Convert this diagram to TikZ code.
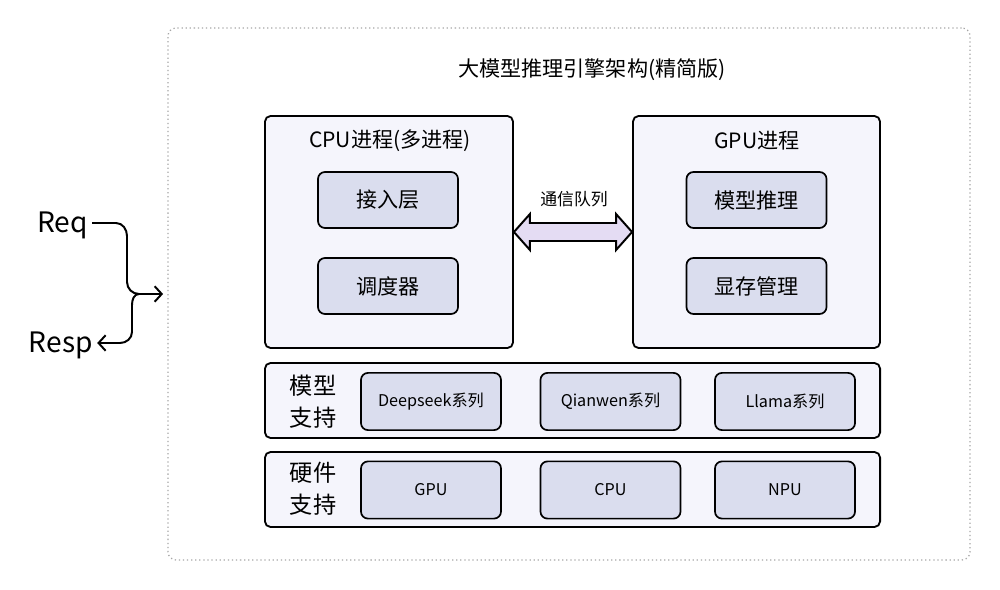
\documentclass[tikz,border=0pt]{standalone}
\usepackage{fontspec}
\setmainfont{Noto Sans CJK SC}
\usetikzlibrary{arrows.meta,calc}
\definecolor{panel}{HTML}{F5F5FC}
\definecolor{inner}{HTML}{DADDEE}
\definecolor{arrowfill}{HTML}{E4DCF3}
\tikzset{
  panelbox/.style={draw=black, line width=1.3pt, fill=panel, rounded corners=4pt, inner sep=0pt},
  innerbox/.style={draw=black, line width=1.2pt, fill=inner, rounded corners=5pt, minimum width=3.5cm, minimum height=1.4cm, inner sep=0pt, font=\fontsize{15}{17}\selectfont},
  smallbox/.style={innerbox, minimum height=1.43cm, font=\fontsize{11.5}{13}\selectfont},
  lbl/.style={inner sep=0pt, align=center},
  conn/.style={line width=1.4pt, -{Straight Barb[length=5pt,width=11pt,line width=1.4pt]}}
}
\begin{document}
\begin{tikzpicture}[x=0.025cm, y=-0.025cm]
\useasboundingbox (0,0) rectangle (1000,590);
\fill[white] (0,0) rectangle (1000,590);
% outer dotted frame
\node[draw=gray!70, dotted, line width=0.9pt, rounded corners=6pt, minimum width=20.05cm, minimum height=13.3cm, inner sep=0pt] (frame) at (569,294) {};
\node[lbl, font=\fontsize{15}{17}\selectfont] (title) at (592,70) {大模型推理引擎架构(精简版)};
% CPU process
\node[panelbox, minimum width=6.2cm, minimum height=5.8cm] (cpu) at (389,232) {};
\node[lbl, font=\fontsize{15}{17}\selectfont] (cputitle) at (390,141) {CPU进程(多进程)};
\node[innerbox] (jr) at (388,200) {接入层};
\node[innerbox] (dd) at (388,286) {调度器};
% GPU process
\node[panelbox, minimum width=6.175cm, minimum height=5.8cm] (gpu) at (756.5,232) {};
\node[lbl, font=\fontsize{15}{17}\selectfont] (gputitle) at (757,141) {GPU进程};
\node[innerbox] (tl) at (756.5,200) {模型推理};
\node[innerbox] (xc) at (756.5,286) {显存管理};
% communication queue arrow
\coordinate (al) at (cpu.east |- 0,232);
\coordinate (ar) at (gpu.west |- 0,232);
\draw[line width=1.4pt, fill=arrowfill, line join=miter]
  (al) -- ++(16,-18) -- ++(0,9) -- ($(ar)+(-16,-9)$) -- ++(0,-9) -- (ar) -- ++(-16,18) -- ++(0,-9) -- ($(al)+(16,9)$) -- ++(0,9) -- cycle;
\node[lbl, font=\fontsize{12}{13}\selectfont] (txq) at (574,199) {通信队列};
% model support row
\node[panelbox, minimum width=15.375cm, minimum height=1.875cm] (model) at (572.5,400.5) {};
\node[lbl, font=\fontsize{16.5}{23}\selectfont] (modellbl) at (313,402) {模型\\支持};
\node[smallbox] (ds) at (431,401.5) {Deepseek系列};
\node[smallbox] (qw) at (610.5,401.5) {Qianwen系列};
\node[smallbox] (ll) at (785,401.5) {Llama系列};
% hardware support row
\node[panelbox, minimum width=15.375cm, minimum height=1.875cm] (hw) at (572.5,489.5) {};
\node[lbl, font=\fontsize{16.5}{23}\selectfont] (hwlbl) at (313,489) {硬件\\支持};
\node[smallbox] (hgpu) at (431,490) {GPU};
\node[smallbox] (hcpu) at (610.5,490) {CPU};
\node[smallbox] (hnpu) at (785,490) {NPU};
% Req / Resp
\node[lbl, font=\fontsize{20}{22}\selectfont, anchor=east] (req) at (88,225) {Req};
\node[lbl, font=\fontsize{20}{22}\selectfont, anchor=east] (resp) at (93,345) {Resp};
\coordinate (jn) at (frame.west |- 0,294);
\coordinate (jc) at (139,294);
\draw[conn] ([xshift=3pt]req.east |- 0,223) -- (116,223) to[out=0,in=90] (127,236) -- (127,282) to[out=-90,in=180] (jc) -- ([xshift=-3pt]jn);
\draw[conn] (jc) to[out=180,in=90] (132,305) -- (132,332) to[out=-90,in=0] (120,343) -- ([xshift=3pt]resp.east |- 0,343);
\end{tikzpicture}
\end{document}
